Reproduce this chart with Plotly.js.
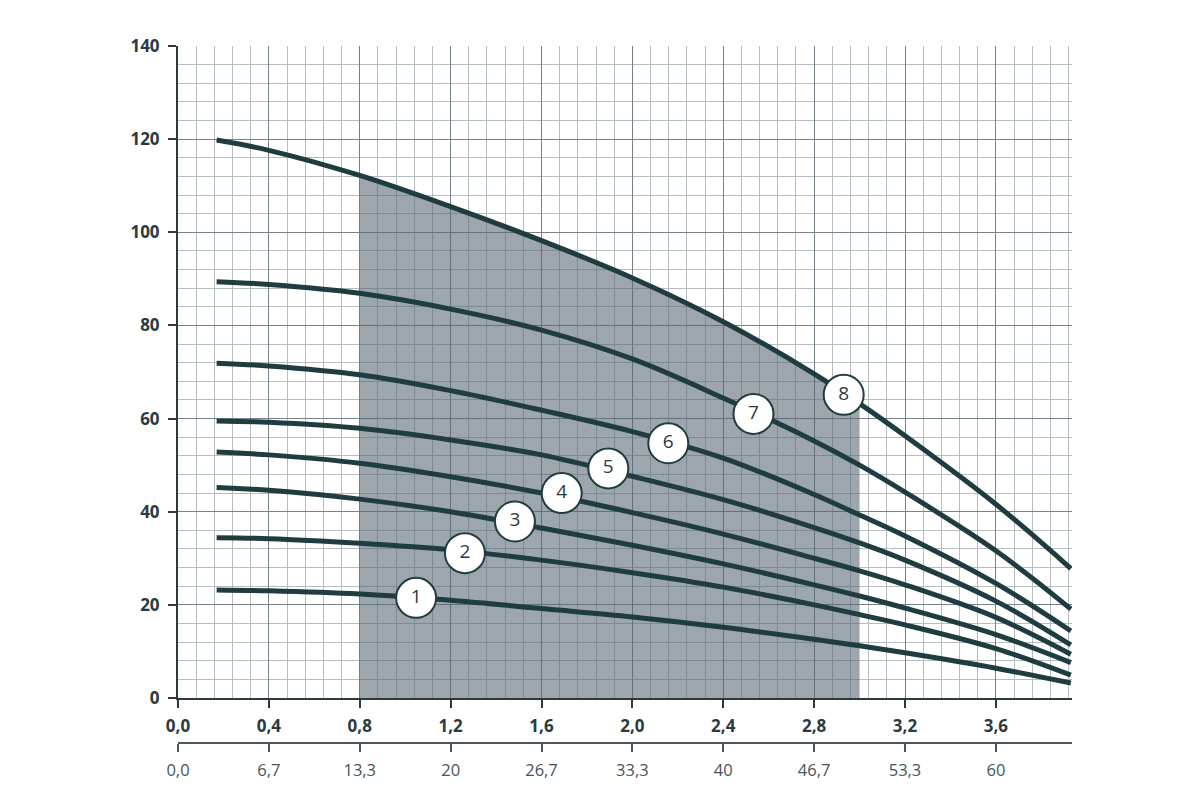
<!DOCTYPE html>
<html>
<head>
<meta charset="utf-8">
<script src="https://cdn.plot.ly/plotly-3.0.1.min.js"></script>
<style>
html,body{margin:0;padding:0;background:#fff;}
#chart{width:1200px;height:800px;}
</style>
</head>
<body>
<div id="chart"></div>
<script>
// Flow, m³/h
const flowQ = [0.17, 0.4, 0.8, 1.2, 1.6, 2.0, 2.4, 2.8, 3.0, 3.2, 3.6, 3.93];
// Head, m for pump curves 1..8
const head1 = [23.2, 23.0, 22.3, 21.0, 19.2, 17.4, 15.2, 12.6, 11.2, 9.7, 6.4, 3.2];
const head2 = [34.4, 34.2, 33.2, 31.8, 29.6, 26.9, 23.8, 20.0, 17.9, 15.7, 10.6, 4.9];
const head3 = [45.2, 44.6, 42.7, 40.0, 36.5, 32.8, 28.8, 24.3, 21.9, 19.3, 13.6, 7.6];
const head4 = [52.8, 52.2, 50.4, 47.5, 44.0, 39.8, 35.2, 30.0, 27.3, 24.3, 17.3, 9.4];
const head5 = [59.5, 59.2, 57.9, 55.4, 52.2, 47.6, 42.6, 36.6, 33.3, 29.6, 20.8, 11.4];
const head6 = [71.9, 71.3, 69.4, 66.0, 61.8, 57.2, 51.5, 43.7, 39.3, 34.8, 24.6, 14.4];
const head7 = [89.4, 88.8, 86.9, 83.5, 79.0, 72.8, 64.4, 55.2, 50.0, 44.2, 31.6, 19.1];
const head8 = [119.8, 117.6, 112.2, 105.5, 98.2, 90.2, 80.8, 69.6, 63.2, 56.3, 41.6, 27.8];

// Working range (shaded)
const workRange = [0.8, 3.0];

// Curve labels
const labelText = ['1', '2', '3', '4', '5', '6', '7', '8'];
const labelQ = [1.048, 1.263, 1.483, 1.689, 1.894, 2.158, 2.533, 2.93];
const labelH = [21.5, 31.1, 37.9, 44.0, 49.3, 54.7, 61.0, 65.1];

// Axis ticks
const xTickVals = [0.0, 0.4, 0.8, 1.2, 1.6, 2.0, 2.4, 2.8, 3.2, 3.6];
const xTickText = ['0,0', '0,4', '0,8', '1,2', '1,6', '2,0', '2,4', '2,8', '3,2', '3,6'];
const lpmTickText = ['0,0', '6,7', '13,3', '20', '26,7', '33,3', '40', '46,7', '53,3', '60'];
const yTickVals = [0, 20, 40, 60, 80, 100, 120, 140];

const curveColor = '#1f3c40';
const textColor = '#2c3a3f';
const heads = [head1, head2, head3, head4, head5, head6, head7, head8];

const traces = [];

// shaded working area under curve 8
const shadeX = [], shadeY = [];
flowQ.forEach((q, i) => {
  if (q >= workRange[0] && q <= workRange[1]) { shadeX.push(q); shadeY.push(head8[i]); }
});
traces.push({
  x: shadeX, y: shadeY, type: 'scatter', mode: 'lines',
  line: {width: 0, shape: 'spline', smoothing: 1},
  fill: 'tozeroy', fillcolor: 'rgba(86,101,114,0.58)',
  hoverinfo: 'skip', showlegend: false
});

heads.forEach((h, i) => {
  traces.push({
    x: flowQ, y: h, type: 'scatter', mode: 'lines',
    name: labelText[i],
    line: {color: curveColor, width: 5, shape: 'spline', smoothing: 1},
    showlegend: false
  });
});

traces.push({
  x: labelQ, y: labelH, text: labelText, type: 'scatter', mode: 'markers+text',
  marker: {size: 40, color: '#ffffff', line: {color: '#1f3c40', width: 2}},
  textposition: 'middle center',
  textfont: {family: 'Open Sans, sans-serif', size: 19, color: textColor},
  hoverinfo: 'skip', showlegend: false, cliponaxis: false
});

// dummy trace so the l/min axis is drawn
traces.push({
  x: [xTickVals[0]], y: [null], xaxis: 'x2', yaxis: 'y', type: 'scatter', mode: 'markers',
  marker: {opacity: 0}, hoverinfo: 'skip', showlegend: false
});

const xRange = [0, 3.935];
const layout = {
  width: 1200, height: 800,
  margin: {l: 178, r: 128, t: 46, b: 57},
  paper_bgcolor: '#ffffff', plot_bgcolor: '#ffffff',
  showlegend: false,
  xaxis: {
    range: xRange, tickvals: xTickVals, ticktext: xTickText,
    showgrid: true, gridcolor: '#76828a', gridwidth: 1,
    minor: {dtick: 0.08, tick0: 0, showgrid: true, gridcolor: '#b6bdc1', gridwidth: 1, ticks: ''},
    showline: true, linecolor: '#2a3a3e', linewidth: 2,
    ticks: 'outside', ticklen: 8, tickwidth: 2, tickcolor: '#2a3a3e',
    tickfont: {family: 'Open Sans, sans-serif', size: 17, color: textColor, weight: 'bold'},
    ticklabelstandoff: 4,
    zeroline: false, anchor: 'y'
  },
  xaxis2: {
    range: xRange, overlaying: 'x', anchor: 'free', position: 0, side: 'bottom',
    tickvals: xTickVals, ticktext: lpmTickText,
    showgrid: false, showline: true, linecolor: '#4a585d', linewidth: 2,
    ticks: 'outside', ticklen: 8, tickwidth: 2, tickcolor: '#4a585d',
    tickfont: {family: 'Open Sans, sans-serif', size: 16.5, color: '#46555a'},
    ticklabelstandoff: 4,
    zeroline: false
  },
  yaxis: {
    domain: [0.0646, 1],
    range: [0, 140], tickvals: yTickVals,
    showgrid: true, gridcolor: '#76828a', gridwidth: 1,
    minor: {dtick: 4, tick0: 0, showgrid: true, gridcolor: '#b6bdc1', gridwidth: 1, ticks: ''},
    showline: true, linecolor: '#2a3a3e', linewidth: 2,
    ticks: 'outside', ticklen: 8, tickwidth: 2, tickcolor: '#2a3a3e',
    tickfont: {family: 'Open Sans, sans-serif', size: 17, color: textColor, weight: 'bold'},
    ticklabelstandoff: 5,
    zeroline: false
  }
};

Plotly.newPlot('chart', traces, layout, {displayModeBar: false, staticPlot: true});
</script>
</body>
</html>
